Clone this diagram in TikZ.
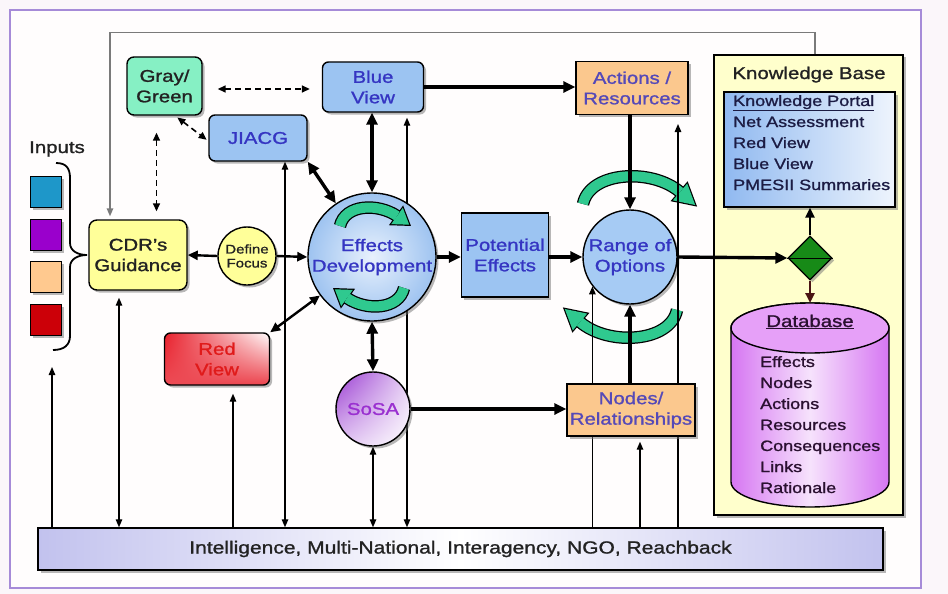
\documentclass[tikz,border=0pt]{standalone}
\usepackage{fontspec}
\setmainfont[FakeStretch=1.2,FakeBold=1.2]{Liberation Sans}
\usetikzlibrary{arrows.meta,shapes.geometric,shadows,shadings}

\definecolor{pagebg}{HTML}{FBF6FA}
\definecolor{innerbg}{HTML}{FFFDFD}
\definecolor{framecol}{HTML}{A68BD8}
\definecolor{feedcol}{HTML}{7A7A7A}
\definecolor{ggreen}{HTML}{86F0C4}
\definecolor{lblue}{HTML}{9CC4F2}
\definecolor{bluetext}{HTML}{3535C2}
\definecolor{peach}{HTML}{FBC88E}
\definecolor{peachtext}{HTML}{5549B8}
\definecolor{cyellow}{HTML}{FFFF99}
\definecolor{darktext}{HTML}{222222}
\definecolor{edin}{HTML}{E8F1FD}
\definecolor{edout}{HTML}{9EC3F0}
\definecolor{roofill}{HTML}{A6CBF4}
\definecolor{sosadeep}{HTML}{9A3CD2}
\definecolor{sosatext}{HTML}{9A30D0}
\definecolor{reddeep}{HTML}{E8202C}
\definecolor{redtext}{HTML}{E01A1A}
\definecolor{garrow}{HTML}{2FC98F}
\definecolor{kbyellow}{HTML}{FFFFCC}
\definecolor{portalblue}{HTML}{90B9F0}
\definecolor{portaltext}{HTML}{1C1C44}
\definecolor{dgreen}{HTML}{178A17}
\definecolor{dbviolet}{HTML}{D676F2}
\definecolor{dbmid}{HTML}{F6E2FC}
\definecolor{dbcap}{HTML}{E6A0F8}
\definecolor{dbtext}{HTML}{2A1030}
\definecolor{barside}{HTML}{C2C2EE}
\definecolor{sqteal}{HTML}{1E97C9}
\definecolor{sqpurple}{HTML}{9A00CC}
\definecolor{sqpeach}{HTML}{FFC98F}
\definecolor{sqred}{HTML}{CC0008}
\definecolor{dbarrow}{HTML}{4A1414}

\newcommand\lblfont{\fontsize{17}{20.5}\selectfont}
\newcommand\dffont{\fontsize{12.5}{14}\selectfont}
\newcommand\itemfont{\fontsize{15}{21}\selectfont}
\newcommand\barfont{\fontsize{17.5}{20}\selectfont}

% curved green arrow: #1 band path, #2 head triangle
\newcommand\greenbend[2]{%
  \draw[line width=12.5pt, black, line cap=butt] #1;
  \filldraw[black, line width=2.4pt, line join=miter] #2;
  \draw[line width=10pt, garrow, line cap=butt] #1;
  \fill[garrow] #2;
}

\begin{document}
\begin{tikzpicture}[x=1pt,y=-1pt,
  every node/.style={inner sep=0pt, align=center},
  shadowed/.style={drop shadow={shadow xshift=2.5pt,shadow yshift=-2.5pt,fill=black!55,opacity=.5}},
  nodebox/.style={draw=black, line width=1.4pt, font=\lblfont, shadowed},
  cthin/.style={line width=1.3pt, -{Triangle[length=8pt,width=6.5pt]}},
  cthinboth/.style={line width=1.3pt, {Triangle[length=8pt,width=6.5pt]}-{Triangle[length=8pt,width=6.5pt]}},
  cthick/.style={line width=3.4pt, -{Triangle[length=12pt,width=11pt]}},
  cthickboth/.style={line width=3.4pt, {Triangle[length=12pt,width=11pt]}-{Triangle[length=12pt,width=11pt]}},
  cmed/.style={line width=2.4pt, -{Triangle[length=10pt,width=9pt]}},
  cmedboth/.style={line width=2.4pt, {Triangle[length=10pt,width=9pt]}-{Triangle[length=10pt,width=9pt]}},
  cdash/.style={line width=1.6pt, dash pattern=on 6pt off 4pt, {Triangle[length=8pt,width=7pt]}-{Triangle[length=8pt,width=7pt]}},
  swatch/.style={draw=black, line width=.8pt, minimum width=31pt, minimum height=31pt, shadowed}]

% page and frame
\fill[pagebg] (0,0) rectangle (948,594);
\draw[framecol, line width=2pt, fill=innerbg] (10,10) rectangle (921,588);
\useasboundingbox (0,0) rectangle (948,594);

% column positions of the feeder lines
\coordinate (c52) at (52,0);
\coordinate (c110) at (110,0);
\coordinate (c119) at (119,0);
\coordinate (c233) at (233,0);
\coordinate (c285) at (285,0);
\coordinate (c407) at (407,0);
\coordinate (c640) at (640,0);
\coordinate (c678) at (678,0);
\coordinate (bracefoot) at (52,367);
\coordinate (dbtop) at (810,303);

% knowledge base panel
\node[draw, line width=1.4pt, fill=kbyellow, minimum width=189pt, minimum height=460pt, shadowed] (kb) at (808.5,285) {};
\node[font=\lblfont, text=darktext, anchor=base] (kbtitle) at (809,79) {Knowledge Base};

% bottom source bar
\node[draw, line width=1.4pt, left color=barside, right color=barside, middle color=white,
      minimum width=845pt, minimum height=42pt, shadowed, font=\barfont, text=darktext] (bar) at (460.5,549)
      {Intelligence, Multi-National, Interagency, NGO, Reachback};

% curved green arrows around Range of Options
\greenbend{(583,204) .. controls (590,171) and (652,168) .. (680,192)}{(695.2,205) -- (687.2,183.6) -- (672.8,200.4) -- cycle}
\begin{scope}[rotate around={180:(630,257)}]
\greenbend{(583,204) .. controls (590,171) and (652,168) .. (680,192)}{(695.2,205) -- (687.2,183.6) -- (672.8,200.4) -- cycle}
\end{scope}

\node[circle, draw, line width=1.4pt, fill=roofill, minimum size=94pt, font=\lblfont, text=bluetext, shadowed] (roo) at (630,257) {Range of\\Options};

% feeder lines that pass behind the Nodes/Relationships box
\draw[cthin] (bar.north -| roo.218) -- (roo.218);
\draw[cthin, shorten >=9pt] (bar.north -| c678) -- (c678 |- 0,115);

% boxes
\node[nodebox, fill=ggreen, rounded corners=7pt, minimum width=75pt, minimum height=58pt, text=darktext] (gg) at (164.5,86) {Gray/\\Green};
\node[nodebox, fill=lblue, rounded corners=6pt, minimum width=101pt, minimum height=50pt, text=bluetext] (bv) at (373,87) {Blue\\View};
\node[nodebox, fill=lblue, rounded corners=6pt, minimum width=98pt, minimum height=46pt, text=bluetext] (jiacg) at (258,138) {JIACG};
\node[nodebox, fill=peach, minimum width=112pt, minimum height=53pt, text=peachtext] (ar) at (632,88) {Actions /\\Resources};
\node[nodebox, fill=cyellow, rounded corners=8pt, minimum width=98pt, minimum height=70pt, text=darktext] (cdr) at (138,255) {CDR's\\Guidance};
\node[nodebox, rounded corners=6pt, upper left=reddeep, lower left=reddeep!80, upper right=white, lower right=reddeep!85,
      minimum width=105pt, minimum height=52pt, text=redtext] (rv) at (217,359) {Red\\View};
\node[nodebox, fill=lblue, minimum width=87pt, minimum height=84pt, text=bluetext] (pe) at (505,255) {Potential\\Effects};
\node[nodebox, fill=peach, minimum width=128pt, minimum height=52pt, text=peachtext] (nr) at (631,410) {Nodes/\\Relationships};

% feeder lines from the bar
\draw[cthin] (bar.north -| c52) -- (bracefoot);
\draw[cthinboth, shorten >=7pt] (bar.north -| c119) -- (cdr.south -| c119);
\draw[cthin, shorten >=8pt] (bar.north -| c233) -- (rv.south -| c233);
\draw[cthinboth] (jiacg.south -| c285) -- (bar.north -| c285);
\draw[cthinboth, shorten <=5pt] (bv.south -| c407) -- (bar.north -| c407);
\draw[cthin, shorten >=5pt] (bar.north -| c640) -- (nr.south -| c640);

\node[circle, draw, line width=1.4pt, fill=cyellow, minimum size=58pt, font=\dffont, text=darktext, shadowed] (df) at (247,256) {Define\\Focus};
\node[circle, draw, line width=1.4pt, inner color=edin, outer color=edout, minimum size=128pt, font=\lblfont, text=bluetext, shadowed] (ed) at (372,257) {Effects\\Development};
\node[circle, draw, line width=1.4pt, upper left=sosadeep, upper right=sosadeep!25, lower left=sosadeep!30, lower right=white,
      minimum size=74pt, font=\lblfont, text=sosatext, shadowed] (sosa) at (373,409) {SoSA};
\draw[cthinboth] (sosa.south) -- (bar.north -| sosa.south);

% rotating arrows inside Effects Development
\greenbend{(340,226) .. controls (345,204) and (378,203) .. (397,216)}{(409.2,224.7) -- (402.8,207.9) -- (391.2,224.1) -- cycle}
\begin{scope}[rotate around={180:(372,257)}]
\greenbend{(340,226) .. controls (345,204) and (378,203) .. (397,216)}{(409.2,224.7) -- (402.8,207.9) -- (391.2,224.1) -- cycle}
\end{scope}

% inputs
\node[font=\lblfont, text=darktext, anchor=base] (inputs) at (57,153) {Inputs};
\node[swatch, fill=sqteal] (sq1) at (45.5,191.5) {};
\node[swatch, fill=sqpurple] (sq2) at (45.5,234.5) {};
\node[swatch, fill=sqpeach] (sq3) at (45.5,277) {};
\node[swatch, fill=sqred] (sq4) at (45.5,319.5) {};
\draw[line width=1.8pt] (56,163) .. controls (66,163) and (70,168) .. (70,178) -- (70,243)
  .. controls (70,251) and (78,255) .. (87,255) .. controls (78,255) and (70,259) .. (70,267)
  -- (70,336) .. controls (70,345) and (64,350) .. (53,350);

% portal
\node[draw, line width=1.4pt, left color=portalblue, right color=portalblue!15, minimum width=171pt, minimum height=115pt, shadowed] (portal) at (809.5,149.5) {};
\foreach \t [count=\i] in {{\underline{Knowledge Portal}},Net Assessment,Red View,Blue View,PMESII Summaries}
  \node[anchor=base west, font=\itemfont, text=portaltext] (portalitem\i) at (733,{85+21*\i}) {\t};

% database
\draw[line width=1.4pt, left color=dbviolet, right color=dbviolet, middle color=dbmid]
  (731,328) -- (731,482) arc[start angle=180, end angle=360, x radius=79pt, y radius=25pt]
  -- (889,328) arc[start angle=0, end angle=180, x radius=79pt, y radius=25pt] -- cycle;
\draw[line width=1.4pt, fill=dbcap] (810,328) ellipse [x radius=79pt, y radius=25pt];
\node[anchor=base, font=\lblfont, text=dbtext] (dbtitle) at (810,327) {\underline{Database}};
\foreach \t [count=\i] in {Effects,Nodes,Actions,Resources,Consequences,Links,Rationale}
  \node[anchor=base west, font=\itemfont, text=dbtext] (dbitem\i) at (760,{346+21*\i}) {\t};

% decision diamond
\node[diamond, draw, line width=1.3pt, fill=dgreen, minimum width=44pt, minimum height=44pt, shadowed] (dia) at (810,258) {};
\draw[line width=1pt] (dia.west) -- (dia.east);

% feedback loop from the knowledge base to the commander
\draw[feedcol, line width=1.4pt, -{Triangle[length=8pt,width=6.5pt]}, shorten >=3pt]
  ([xshift=6.5pt]kb.north) -- ++(0,-22) -| (cdr.north -| c110);

% dashed coordination links
\draw[cdash, shorten <=15pt, shorten >=12pt] ([yshift=-3pt]gg.east) -- ([yshift=-3pt]gg.east -| bv.west);
\draw[cdash, shorten <=3pt, shorten >=2pt] ([xshift=10.5pt]gg.south) -- ([yshift=-3pt]jiacg.west);
\draw[cdash, shorten <=17pt, shorten >=8pt] ([xshift=-8pt]gg.south) -- ([xshift=-8pt]gg.south |- cdr.north);

% main flow
\draw[cmed] (df.west) -- (cdr.east);
\draw[cmed] (df.east) -- (ed.west);
\draw[cthickboth] (jiacg.south east) -- (ed);
\draw[cmedboth] (rv.north east) -- (ed);
\draw[cthickboth] (ed.north |- bv.south) -- (ed.north);
\draw[cthickboth] (ed.south) -- (sosa.north);
\draw[cthick] (ed.east) -- (ed.east -| pe.west);
\draw[cthick] (pe.east |- roo.west) -- (roo.west);
\draw[cthick] (bv.east) -- (bv.east -| ar.west);
\draw[cthick] (roo.north |- ar.south) -- (roo.north);
\draw[cthick] (roo.south |- nr.north) -- (roo.south);
\draw[cthick] (sosa.east) -- (sosa.east -| nr.west);
\draw[cthick] (roo.east) -- (dia.west);
\draw[cmed] (dia.north) -- (dia.north |- portal.south);
\draw[cmed, dbarrow] (dia.south) -- (dbtop);
\end{tikzpicture}
\end{document}
